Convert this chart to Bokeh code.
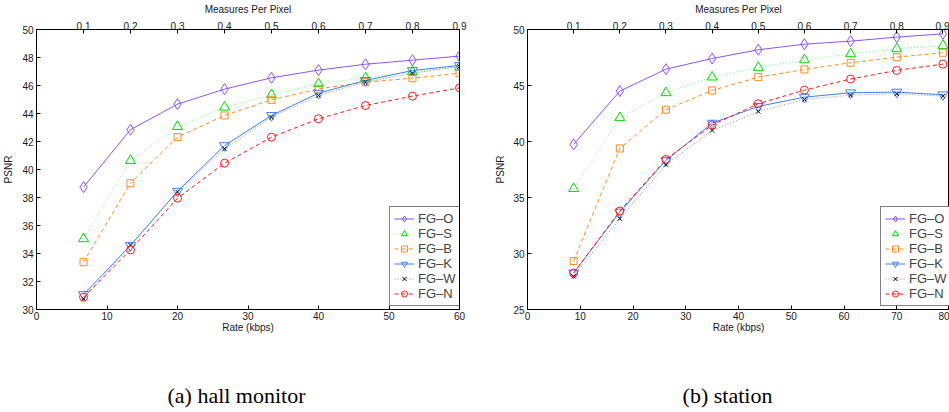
from bokeh.plotting import figure
from bokeh.models import Range1d, LinearAxis, FixedTicker, Legend, LegendItem, Label
from bokeh.layouts import row, column
from bokeh.embed import file_html
from bokeh.resources import INLINE

# ---------------- data ----------------
mpp = [0.1, 0.2, 0.3, 0.4, 0.5, 0.6, 0.7, 0.8, 0.9]
rate_hall = [6.67, 13.33, 20.0, 26.67, 33.33, 40.0, 46.67, 53.33, 60.0]
rate_station = [8.75, 17.5, 26.25, 35.0, 43.75, 52.5, 61.25, 70.0, 78.75]

series_names = ["FG\u2013O", "FG\u2013S", "FG\u2013B", "FG\u2013K", "FG\u2013W", "FG\u2013N"]

hall_O = [38.74, 42.84, 44.67, 45.74, 46.55, 47.10, 47.52, 47.81, 48.10]
hall_S = [35.05, 40.64, 43.07, 44.45, 45.33, 46.12, 46.55, 46.98, 47.31]
hall_B = [33.38, 39.02, 42.31, 43.86, 44.98, 45.76, 46.24, 46.52, 46.88]
hall_K = [31.07, 34.57, 38.45, 41.71, 43.86, 45.45, 46.36, 47.07, 47.43]
hall_W = [30.76, 34.60, 38.40, 41.48, 43.74, 45.29, 46.24, 46.88, 47.36]
hall_N = [30.88, 34.26, 37.95, 40.45, 42.31, 43.62, 44.57, 45.24, 45.83]

station_O = [39.74, 44.50, 46.46, 47.41, 48.19, 48.69, 48.96, 49.32, 49.61]
station_S = [35.79, 42.12, 44.35, 45.75, 46.61, 47.29, 47.83, 48.28, 48.57]
station_B = [29.33, 39.38, 42.84, 44.56, 45.75, 46.43, 47.03, 47.53, 47.92]
station_K = [28.26, 33.70, 38.31, 41.64, 43.13, 43.96, 44.35, 44.41, 44.17]
station_W = [27.97, 33.11, 37.93, 40.99, 42.68, 43.75, 44.14, 44.26, 44.05]
station_N = [28.26, 33.79, 38.40, 41.47, 43.37, 44.59, 45.58, 46.35, 46.91]

hall_xticks = [0, 10, 20, 30, 40, 50, 60]
hall_yticks = [30, 32, 34, 36, 38, 40, 42, 44, 46, 48, 50]
station_xticks = [0, 10, 20, 30, 40, 50, 60, 70, 80]
station_yticks = [25, 30, 35, 40, 45, 50]

captions = ["(a) hall monitor", "(b) station"]

# ---------------- styles ----------------
styles = [
    # marker, marker colour, line colour, dash, size
    ("diamond", "#8a55f5", "#8a55f5", "solid", 11),
    ("triangle", "#00dd00", "#7ff07f", "dotted", 10),
    ("square", "#ff8a1e", "#ff8a1e", "dashed", 7),
    ("inverted_triangle", "#3d7fff", "#3d7fff", "solid", 10),
    ("x", "#000000", "#888888", "dotted", 6),
    ("circle", "#ff1a1a", "#ff1a1a", "dashed", 8),
]
DASH = {"solid": "solid", "dotted": "1 2", "dashed": "4 3"}
FONT = "Liberation Sans"
PLOT_H = 340
CAP_H = 72
TOP = 29
FRAME_H = 280


def style_axis(ax):
    ax.axis_line_color = "black"
    ax.major_tick_line_color = "black"
    ax.major_tick_in = 4
    ax.major_tick_out = 0
    ax.minor_tick_line_color = None
    ax.major_label_text_font = FONT
    ax.major_label_text_font_size = "10px"
    ax.major_label_text_color = "#1a1a1a"
    ax.axis_label_text_font = FONT
    ax.axis_label_text_font_size = "10px"
    ax.axis_label_text_font_style = "normal"
    ax.axis_label_text_color = "#1a1a1a"


def make_plot(rate, data, xmax, ymin, xticks, yticks, width, bl, br, ylab_standoff):
    p = figure(width=width, height=PLOT_H, output_backend="svg", toolbar_location=None,
               x_range=Range1d(0, xmax), y_range=Range1d(ymin, 50),
               min_border_left=bl, min_border_right=br, min_border_top=TOP,
               min_border_bottom=PLOT_H - TOP - FRAME_H)
    p.extra_x_ranges = {"mpp": Range1d(0, xmax * 0.9 / rate[-1])}
    p.grid.visible = False
    p.outline_line_color = "black"
    p.outline_line_width = 1
    p.background_fill_color = "white"
    p.border_fill_color = "white"

    p.xaxis.ticker = FixedTicker(ticks=xticks)
    p.yaxis.ticker = FixedTicker(ticks=yticks)
    p.xaxis.axis_label = "Rate (kbps)"
    p.yaxis.axis_label = "PSNR"
    for ax in p.xaxis:
        style_axis(ax)
        ax.major_label_standoff = 2
        ax.axis_label_standoff = -1
    for ax in p.yaxis:
        style_axis(ax)
        ax.major_label_standoff = 3
        ax.axis_label_standoff = ylab_standoff

    top = LinearAxis(x_range_name="mpp", ticker=FixedTicker(ticks=mpp),
                     axis_label="Measures Per Pixel")
    style_axis(top)
    top.major_label_standoff = 0
    top.axis_label_standoff = 4
    p.add_layout(top, "above")

    items = []
    for name, vals, (marker, mcol, lcol, dash, size) in zip(series_names, data, styles):
        lr = p.line(rate, vals, line_color=lcol, line_width=1, line_dash=DASH[dash])
        sr = p.scatter(rate, vals, marker=marker, size=size, line_color=mcol,
                       line_width=1, fill_color="white", fill_alpha=0)
        items.append(LegendItem(label=name, renderers=[lr, sr]))

    legend = Legend(items=items, location=(353, 3), margin=0, padding=4, spacing=0,
                    glyph_width=20, glyph_height=15, label_height=15, label_standoff=4,
                    label_text_font=FONT, label_text_font_size="13px",
                    border_line_color="black", border_line_width=1.5,
                    background_fill_color="white", background_fill_alpha=1)
    p.add_layout(legend)
    return p


p1 = make_plot(rate_hall, [hall_O, hall_S, hall_B, hall_K, hall_W, hall_N],
               60, 30, hall_xticks, hall_yticks, 470, 35, 11, 5)
p2 = make_plot(rate_station, [station_O, station_S, station_B, station_K, station_W, station_N],
               80, 25, station_xticks, station_yticks, 479, 57, 0, 4)

# caption strip
cap = figure(width=949, height=CAP_H, output_backend="svg", toolbar_location=None,
             x_range=Range1d(0, 1), y_range=Range1d(0, 1),
             x_axis_type=None, y_axis_type=None,
             min_border_left=0, min_border_right=0, min_border_top=0, min_border_bottom=0)
cap.outline_line_color = None
cap.background_fill_color = "white"
cap.border_fill_color = "white"
for text, cx in zip(captions, [236, 727]):
    cap.add_layout(Label(x=cx, y=17, x_units="screen", y_units="screen",
                         text=text, text_align="center", text_baseline="middle",
                         text_font="Liberation Serif", text_font_size="22px",
                         text_color="black"))

layout = column(row(p1, p2), cap)
open("out.html", "w").write(file_html(layout, INLINE))
